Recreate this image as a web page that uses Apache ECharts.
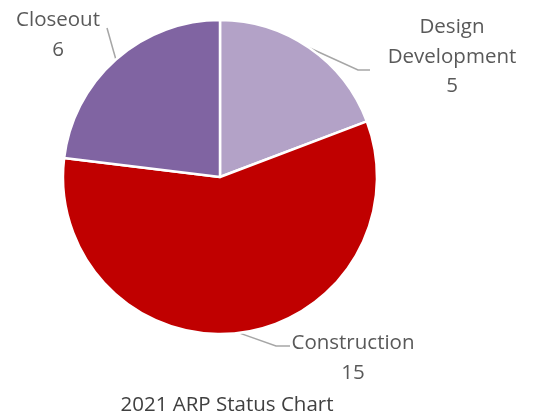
<!DOCTYPE html>
<html><head><meta charset="utf-8">
<script src="https://cdn.jsdelivr.net/npm/echarts@6/dist/echarts.min.js"></script>
<style>html,body{margin:0;padding:0;background:#fff}#c{width:536px;height:417px}</style>
</head><body><div id="c"></div>
<script>
const categories = ['Design Development', 'Construction', 'Closeout'];
const labelTexts = ['Design\nDevelopment', 'Construction', 'Closeout'];
const values = [5, 15, 6];
const colors = ['#b3a2c7', '#c00000', '#8064a2'];
const title = '2021 ARP Status Chart';
const labelAnchors = [[452, 57], [353, 358], [58, 35]];
const leaderElbows = [[358, 70], [276, 346], [107, 28]];
const leaderEnds = [[370, 70], [290, 346], [107, 28]];

const chart = echarts.init(document.getElementById('c'));
chart.setOption({
  animation: false,
  title: {text: title, left: 222, top: 390, textAlign: 'center',
    textStyle: {fontFamily: 'Open Sans', fontSize: 20.5, fontWeight: 'normal', color: '#404040'}},
  series: [{
    type: 'pie',
    center: [220, 177],
    radius: 157,
    startAngle: 90,
    clockwise: true,
    data: categories.map((c, i) => ({name: labelTexts[i], value: values[i], itemStyle: {color: colors[i]}})),
    itemStyle: {borderColor: '#fff', borderWidth: 2.5},
    label: {show: true, position: 'outside', formatter: '{b}\n{c}', align: 'center', overflow: 'none',
      fontFamily: 'Open Sans', fontSize: 20.5, lineHeight: 29.5, color: '#595959'},
    labelLine: {show: true, length: 20, length2: 12, lineStyle: {color: '#a6a6a6', width: 1.5}},
    labelLayout: function (p) {
      const i = p.dataIndex;
      const a = labelAnchors[i];
      const start = p.labelLinePoints ? p.labelLinePoints[0] : null;
      const out = {x: a[0], y: a[1], align: 'center', verticalAlign: 'middle'};
      if (start) out.labelLinePoints = [start, leaderElbows[i], leaderEnds[i]];
      return out;
    }
  }]
});
</script></body></html>
